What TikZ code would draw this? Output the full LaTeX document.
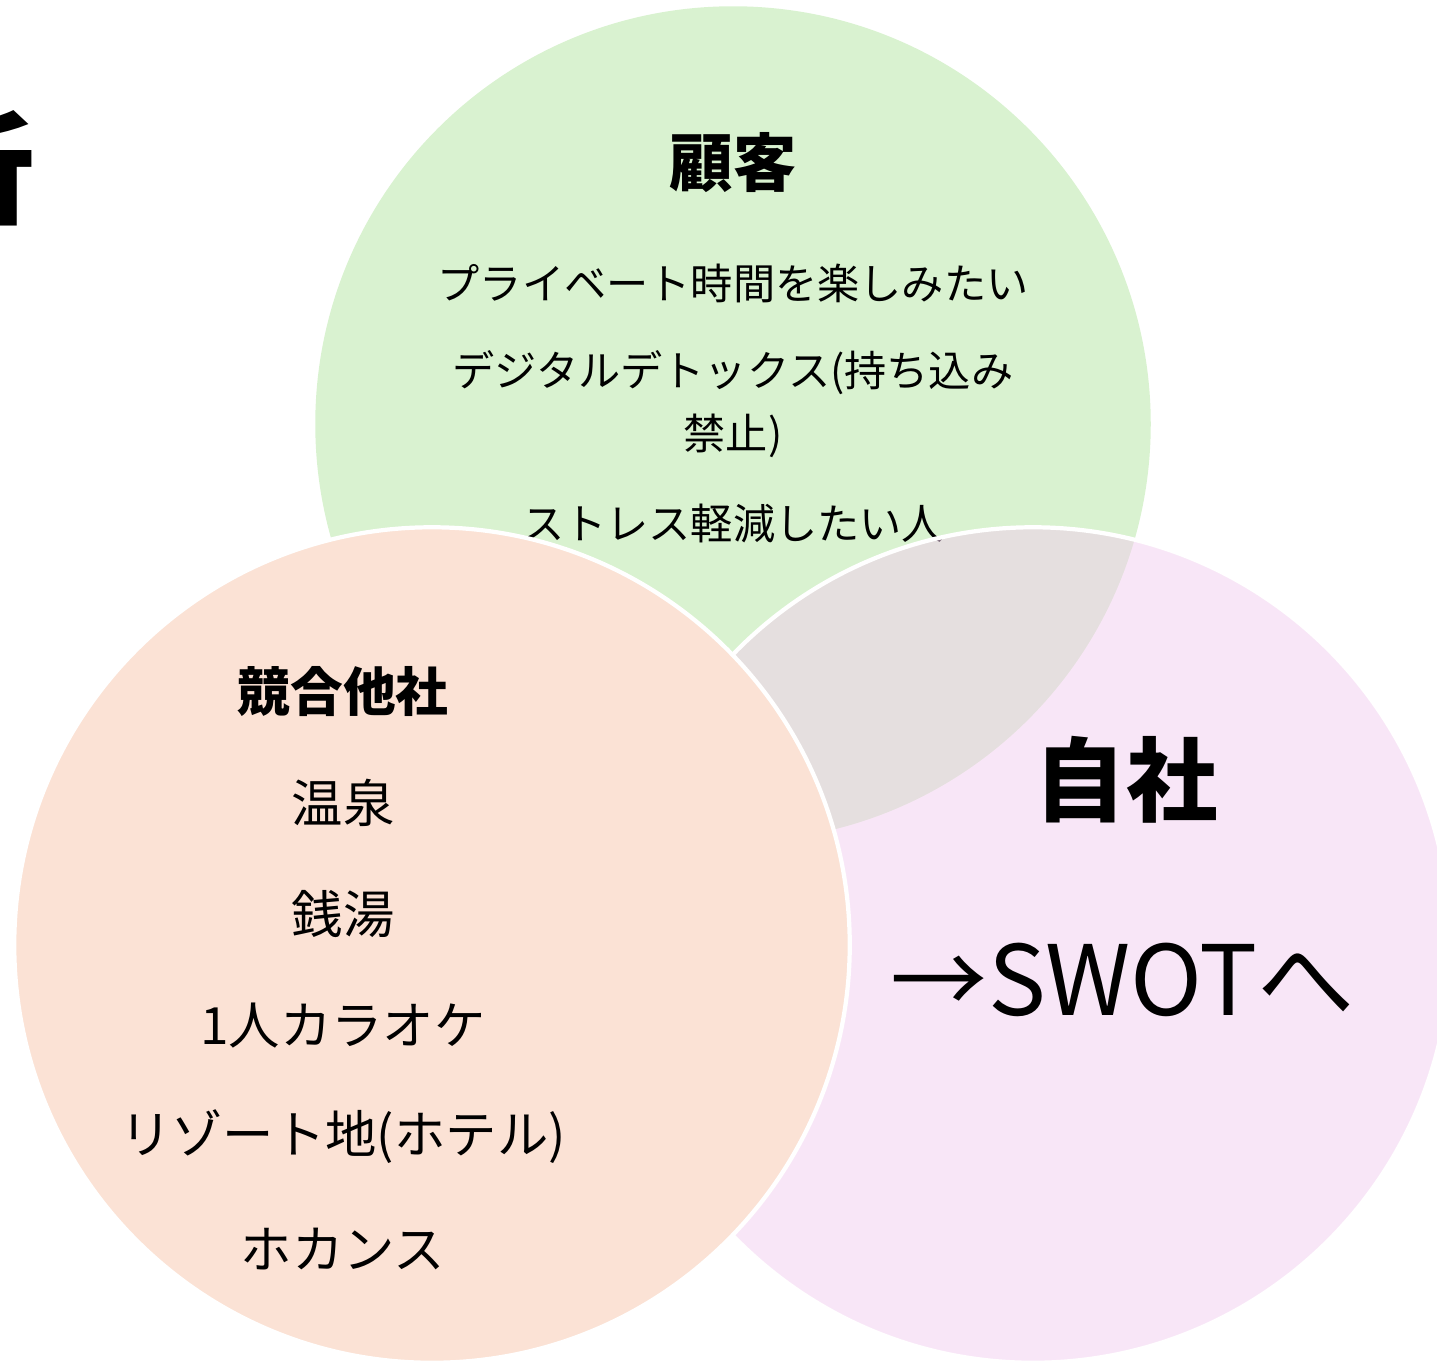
\documentclass[tikz,border=0pt]{standalone}
\usepackage{fontspec}
\setmainfont{Noto Sans CJK JP}
\usepackage{tikz}

\definecolor{kokyakugreen}{HTML}{D9F2D0}
\definecolor{jishapurple}{HTML}{F2CEEF}
\definecolor{kyogopeach}{HTML}{FBE2D5}

\newcommand{\fs}[1]{\fontsize{#1}{1.5\dimexpr#1pt\relax}\selectfont}

\begin{document}
\begin{tikzpicture}[x=0.01cm, y=-0.01cm]
            \tikzstyle{every node}=[inner sep=0pt, align=center];
            \tikzstyle{ring}=[circle, minimum size=8.35cm];
            \tikzstyle{edge white}=[draw=white, draw opacity=1, line width=1.2pt];
            \tikzstyle{head}=[font=\fs{18}\bfseries];
            \tikzstyle{item}=[font=\fs{12}];
            \tikzstyle{rival}=[font=\fs{14.6}];
            \useasboundingbox (0,0) rectangle (1437,1360);
            \clip (0,0) rectangle (1437,1360);
            % title, cut off at the left edge
            \node[font=\fs{35}\bfseries, anchor=east] (title) at (35,168) {析};
            % customer
            \node[ring, fill=kokyakugreen] (kokyaku) at (733,424) {};
            \node[head] (kokyakuhead) at (733,163) {顧客};
            \node[item] (wish1) at (733,283) {プライベート時間を楽しみたい};
            \node[item, font=\fontsize{12}{18}\selectfont] (wish2) at (733,404) {デジタルデトックス(持ち込み\\禁止)};
            \node[item] (wish3) at (733,523) {ストレス軽減したい人};
            % own company
            \node[ring, fill=jishapurple, fill opacity=0.5, edge white] (jisha) at (1033,945) {};
            \node[font=\fs{26}\bfseries] (jishahead) at (1126,780) {自社};
            \node[font=\fs{27.6}] (swot) at (1123,980) {→SWOTへ};
            % competitors
            \node[ring, fill=kyogopeach, edge white] (kyogo) at (432,945) {};
            \node[rival, font=\fs{15}\bfseries] (kyogohead) at (343,692) {競合他社};
            \node[rival] (rival1) at (343,803) {温泉};
            \node[rival] (rival2) at (343,914) {銭湯};
            \node[rival] (rival3) at (343,1026) {1人カラオケ};
            \node[rival] (rival4) at (343,1137) {リゾート地(ホテル)};
            \node[rival] (rival5) at (343,1249) {ホカンス};
\end{tikzpicture}
\end{document}
